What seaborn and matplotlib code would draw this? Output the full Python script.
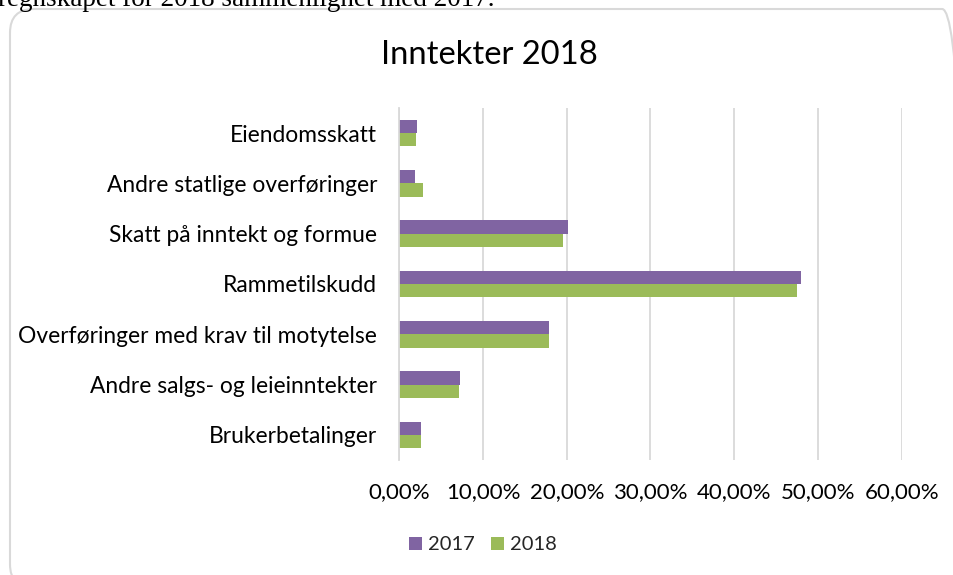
import matplotlib
matplotlib.use("Agg")
import matplotlib.pyplot as plt
import seaborn as sns
import pandas as pd
from matplotlib.patches import FancyBboxPatch
from matplotlib.ticker import FuncFormatter

categories = [
    "Eiendomsskatt",
    "Andre statlige overføringer",
    "Skatt på inntekt og formue",
    "Rammetilskudd",
    "Overføringer med krav til motytelse",
    "Andre salgs- og leieinntekter",
    "Brukerbetalinger",
]
values_2017 = [0.0208, 0.0184, 0.201, 0.4796, 0.179, 0.072, 0.026]
values_2018 = [0.0203, 0.0287, 0.196, 0.4755, 0.179, 0.0718, 0.0258]
years = ["2017", "2018"]
xticks = [0.0, 0.1, 0.2, 0.3, 0.4, 0.5, 0.6]

df = pd.DataFrame({
    "kategori": categories * 2,
    "andel": values_2017 + values_2018,
    "år": [years[0]] * len(categories) + [years[1]] * len(categories),
})

sns.set_theme(style="white")
plt.rcParams["font.family"] = ["Lato", "DejaVu Sans"]

W, H = 954, 575
fig = plt.figure(figsize=(W / 100, H / 100), dpi=100)
ax = fig.add_axes([0.4186, 0.2, 0.9451 - 0.4186, 0.8122 - 0.2])

sns.barplot(data=df, y="kategori", x="andel", hue="år", orient="h",
            palette=["#8064A2", "#9BBB59"], width=0.53, gap=0,
            order=categories, hue_order=years, ax=ax, legend=True,
            saturation=1, linewidth=0, edgecolor="none")

ax.set_xlim(0, 0.6)
ax.set_xticks(xticks)
ax.xaxis.set_major_formatter(FuncFormatter(lambda v, p: f"{v*100:.2f}%".replace(".", ",")))
ax.set_xlabel("")
ax.set_ylabel("")
ax.grid(axis="x", color="#D9D9D9", linewidth=1.3)
ax.set_axisbelow(True)
for s in ["top", "right", "bottom"]:
    ax.spines[s].set_visible(False)
ax.spines["left"].set_color("#D9D9D9")
ax.spines["left"].set_linewidth(1.3)
ax.tick_params(axis="both", length=0, labelsize=16, colors="#000000")
ax.tick_params(axis="y", pad=16, labelsize=16.4)
ax.tick_params(axis="x", pad=16)

handles, labels = ax.get_legend_handles_labels()
ax.get_legend().remove()
fig.legend(handles, labels, loc="center", bbox_to_anchor=(0.506, 1 - 545 / 575),
           ncol=2, frameon=False, fontsize=14.5, handlelength=0.65, handleheight=0.65,
           handletextpad=0.3, columnspacing=0.8)

fig.text(489 / 954, 1 - 55 / 575, "Inntekter 2018", ha="center", va="center",
         fontsize=23.6, color="#000000")

# rounded chart-area border (left/top edges visible, right/bottom run past the canvas)
x0, y_top, x1, y_bot = 10, 9, 966, 588
frame = FancyBboxPatch((x0 / W, 1 - y_bot / H), (x1 - x0) / W, (y_bot - y_top) / H,
                       boxstyle="round,pad=0,rounding_size=0.025",
                       transform=fig.transFigure, facecolor="none", edgecolor="#D9D9D9",
                       linewidth=1.5, zorder=0, mutation_aspect=W / H)
fig.patches.append(frame)

fig.text(-2 / 954, 1 - 5.5 / 575, "regnskapet for 2018 sammenlignet med 2017.",
         ha="left", va="baseline", fontsize=19.5, family="Liberation Serif", color="#000000")

fig.savefig("out.png", dpi=100)
